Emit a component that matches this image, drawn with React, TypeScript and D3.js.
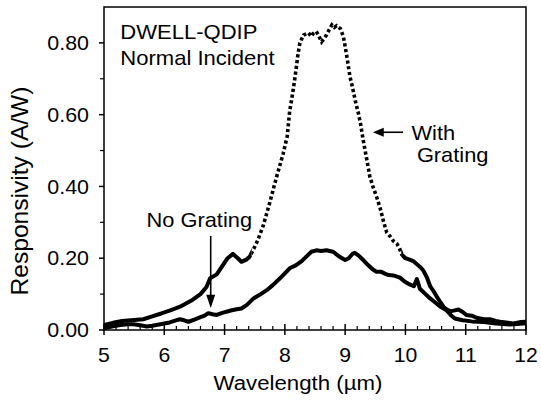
import React from "react";
import * as d3 from "d3";

// Wavelength (µm) and responsivity (A/W)
const withGratingX = [5.00,5.15,5.30,5.50,5.65,5.80,5.95,6.10,6.26,6.45,6.60,6.70,6.76,6.87,6.95,7.05,7.14,7.22,7.28,7.36,7.42,7.48,7.55,7.64,7.75,7.86,7.97,8.04,8.08,8.13,8.17,8.22,8.25,8.31,8.39,8.44,8.47,8.52,8.55,8.61,8.65,8.69,8.74,8.78,8.82,8.86,8.92,8.97,9.02,9.08,9.13,9.18,9.22,9.26,9.30,9.36,9.41,9.47,9.52,9.58,9.64,9.69,9.74,9.80,9.86,9.90,9.94,10.00,10.07,10.13,10.20,10.25,10.30,10.36,10.41,10.46,10.52,10.57,10.63,10.68,10.74,10.80,10.88,10.95,11.01,11.10,11.18,11.30,11.40,11.50,11.57,11.70,11.79,11.90,12.00];
const withGratingY = [0.014,0.020,0.025,0.028,0.030,0.038,0.046,0.055,0.065,0.082,0.100,0.120,0.144,0.155,0.175,0.200,0.212,0.200,0.190,0.196,0.205,0.225,0.250,0.290,0.355,0.425,0.490,0.540,0.610,0.660,0.706,0.771,0.800,0.822,0.828,0.818,0.826,0.832,0.824,0.803,0.812,0.822,0.838,0.850,0.843,0.848,0.840,0.818,0.771,0.706,0.670,0.630,0.604,0.570,0.529,0.474,0.427,0.395,0.372,0.340,0.300,0.272,0.262,0.248,0.240,0.228,0.210,0.200,0.196,0.192,0.182,0.175,0.165,0.145,0.122,0.110,0.093,0.080,0.065,0.058,0.052,0.054,0.057,0.050,0.042,0.040,0.034,0.030,0.030,0.025,0.023,0.020,0.018,0.022,0.023];

const noGratingX = [5.00,5.15,5.27,5.40,5.49,5.60,5.71,5.80,5.87,6.00,6.09,6.18,6.26,6.33,6.40,6.50,6.59,6.67,6.73,6.80,6.87,6.95,7.03,7.12,7.20,7.28,7.37,7.48,7.60,7.70,7.80,7.92,8.00,8.08,8.18,8.28,8.36,8.44,8.52,8.60,8.69,8.80,8.90,9.00,9.06,9.12,9.16,9.22,9.30,9.38,9.45,9.52,9.60,9.66,9.72,9.80,9.91,9.98,10.07,10.14,10.19,10.24,10.32,10.41,10.50,10.57,10.68,10.75,10.82,10.95,11.10,11.30,11.50,11.73,11.85,12.00];
const noGratingY = [0.005,0.010,0.014,0.016,0.016,0.013,0.010,0.012,0.014,0.018,0.021,0.026,0.030,0.027,0.023,0.029,0.035,0.040,0.047,0.044,0.042,0.047,0.051,0.055,0.058,0.060,0.070,0.088,0.100,0.111,0.125,0.144,0.158,0.172,0.180,0.192,0.205,0.218,0.222,0.220,0.222,0.218,0.205,0.195,0.200,0.212,0.215,0.208,0.195,0.181,0.170,0.162,0.162,0.157,0.153,0.152,0.146,0.136,0.127,0.122,0.142,0.115,0.102,0.088,0.076,0.066,0.055,0.042,0.032,0.027,0.024,0.022,0.018,0.015,0.017,0.019];

const xTicks = [5, 6, 7, 8, 9, 10, 11, 12];
const yTicks = [0, 0.2, 0.4, 0.6, 0.8];
const yTickLabels = ["0.00", "0.20", "0.40", "0.60", "0.80"];

const W = 541;
const H = 402;
const M = { left: 104, right: 15, top: 7, bottom: 72 };
const FONT = "Arial, 'Liberation Sans', Helvetica, sans-serif";

type TProps = { x: number; y: number; size: number; anchor?: string; sx?: number; rot?: number; dy?: string; children: React.ReactNode };
function T({ x, y, size, anchor = "start", sx = 1.06, rot = 0, dy, children }: TProps) {
  return (
    <text
      transform={`translate(${x},${y}) rotate(${rot}) scale(${sx},1)`}
      fontSize={size}
      textAnchor={anchor as any}
      dy={dy}
      fill="#000"
    >
      {children}
    </text>
  );
}

export default function App() {
  const x = d3.scaleLinear().domain([5, 12]).range([M.left, W - M.right]);
  const y = d3.scaleLinear().domain([0, 0.9]).range([H - M.bottom, M.top]);
  const x0 = x(5), x1 = x(12), y0 = y(0), y1 = y(0.9);

  const wg: [number, number][] = withGratingX.map((v, i) => [v, withGratingY[i]]);
  const ng: [number, number][] = noGratingX.map((v, i) => [v, noGratingY[i]]);
  const line = d3.line<[number, number]>().x((d) => x(d[0])).y((d) => y(d[1]));

  const dotStart = x(7.45);
  const dotEnd = x(9.93);

  const xMinor = d3.range(5, 12.001, 0.2).filter((v) => Math.abs(v - Math.round(v)) > 0.01);
  const yMinor = [0.1, 0.3, 0.5, 0.7];

  const ngArrowX = x(6.77);
  const wgArrowY = y(0.551);

  return (
    <svg width={W} height={H} style={{ position: "absolute", left: 0, top: 0, background: "#fff" }} fontFamily={FONT}>
      <defs>
        <clipPath id="cLeft"><rect x={0} y={0} width={dotStart} height={H} /></clipPath>
        <clipPath id="cMid"><rect x={dotStart} y={0} width={dotEnd - dotStart} height={H} /></clipPath>
        <clipPath id="cRight"><rect x={dotEnd} y={0} width={W - dotEnd} height={H} /></clipPath>
      </defs>
      <rect x={0} y={0} width={W} height={H} fill="#fff" />

      {/* curves */}
      <path d={line(ng) || ""} fill="none" stroke="#000" strokeWidth={4} strokeLinejoin="round" />
      <path d={line(wg) || ""} fill="none" stroke="#000" strokeWidth={4} strokeLinejoin="round" clipPath="url(#cLeft)" />
      <path d={line(wg) || ""} fill="none" stroke="#000" strokeWidth={3.6} strokeDasharray="3.2 2.6" clipPath="url(#cMid)" />
      <path d={line(wg) || ""} fill="none" stroke="#000" strokeWidth={4} strokeLinejoin="round" clipPath="url(#cRight)" />

      {/* frame */}
      <rect x={x0} y={y1} width={x1 - x0} height={y0 - y1} fill="none" stroke="#000" strokeWidth={1.5} />

      {/* x ticks */}
      {xTicks.map((t) => (
        <g key={"xt" + t}>
          <line x1={x(t)} x2={x(t)} y1={y0 - 6} y2={y0 + 5} stroke="#000" strokeWidth={1.5} />
          <T x={x(t)} y={362} size={20} anchor="middle">{t}</T>
        </g>
      ))}
      {xMinor.map((t, i) => (
        <line key={"xm" + i} x1={x(t)} x2={x(t)} y1={y0 - 4} y2={y0} stroke="#000" strokeWidth={1.2} />
      ))}

      {/* y ticks */}
      {yTicks.map((t, i) => (
        <g key={"yt" + t}>
          <line x1={x0 - 5} x2={x0} y1={y(t)} y2={y(t)} stroke="#000" strokeWidth={1.5} />
          <T x={89} y={y(t)} dy="0.36em" size={20} anchor="end" sx={1.07}>{yTickLabels[i]}</T>
        </g>
      ))}
      {yMinor.map((t) => (
        <line key={"ym" + t} x1={x0 - 4} x2={x0} y1={y(t)} y2={y(t)} stroke="#000" strokeWidth={1.2} />
      ))}

      {/* axis titles */}
      <T x={298} y={390} size={21} anchor="middle" sx={1.06}>Wavelength (µm)</T>
      <T x={28} y={191} size={23} anchor="middle" rot={-90} sx={1.07}>Responsivity (A/W)</T>

      {/* annotations */}
      <T x={x(5.27)} y={y(0.812)} size={21} sx={1.05}>DWELL-QDIP</T>
      <T x={x(5.27)} y={y(0.738)} size={21} sx={1.05}>Normal Incident</T>

      <T x={x(6.58)} y={y(0.287)} size={21} anchor="middle" sx={1.04}>No Grating</T>
      <line x1={ngArrowX} x2={ngArrowX} y1={y(0.262)} y2={y(0.095)} stroke="#000" strokeWidth={1.6} />
      <path d={`M${ngArrowX},${y(0.061)} L${ngArrowX - 4.5},${y(0.098)} L${ngArrowX + 4.5},${y(0.098)} Z`} fill="#000" />

      <T x={x(10.10)} y={y(0.529)} size={21} sx={1.04}>With</T>
      <T x={x(10.19)} y={y(0.468)} size={21} sx={1.04}>Grating</T>
      <line x1={x(9.96)} x2={x(9.58)} y1={wgArrowY} y2={wgArrowY} stroke="#000" strokeWidth={1.6} />
      <path d={`M${x(9.46)},${wgArrowY} L${x(9.64)},${wgArrowY - 4.5} L${x(9.64)},${wgArrowY + 4.5} Z`} fill="#000" />
    </svg>
  );
}
